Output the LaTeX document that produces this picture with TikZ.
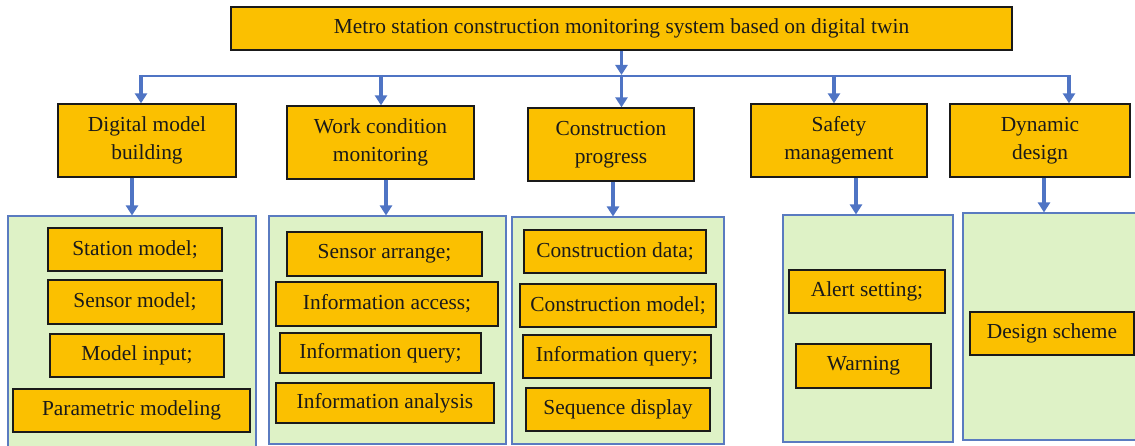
\documentclass[tikz,border=0pt]{standalone}
\usepackage{fontspec}
\setmainfont{Liberation Serif}
\usetikzlibrary{arrows.meta}
\definecolor{gold}{HTML}{FBC000}
\definecolor{leaf}{HTML}{DEF2C6}
\definecolor{link}{HTML}{4F74C4}
\definecolor{rim}{HTML}{5A7BC0}
\definecolor{ink}{HTML}{1A1A1A}
% \place{style}{name}{x1}{y1}{x2}{y2}{text}: a box given by its corners
\newcommand\place[7]{%
  \node[#1,minimum width={#5-#3},minimum height={#6-#4}] (#2)
    at ({(#3+#5)/2},{(#4+#6)/2}) {#7};}
\begin{document}
\begin{tikzpicture}[x=1pt,y=-1pt,
  box/.style={draw=ink,line width=1.3pt,fill=gold,inner sep=0pt,align=center,
    text=ink,font=\fontsize{21.4}{28.5}\selectfont},
  panel/.style={draw=rim,line width=1.1pt,fill=leaf,inner sep=0pt},
  arr/.style={draw=link,line width=3.2pt,-{Triangle[width=12pt,length=10pt]}},
  bus/.style={draw=link,line width=2pt}]
\useasboundingbox (0,0) rectangle (1135,446);
\clip (0,0) rectangle (1135,446);

% title
\place{box}{top}{231}{7}{1012}{50}{Metro station construction monitoring system based on digital twin}

% second level
\place{box}{dmb}{58}{104}{236}{177}{Digital model\\building}
\place{box}{wcm}{287}{106}{474}{179}{Work condition\\monitoring}
\place{box}{cpr}{528}{108}{694}{181}{Construction\\progress}
\place{box}{sfm}{751}{104}{927}{177}{Safety\\management}
\place{box}{dyd}{950}{104}{1130}{177}{Dynamic\\design}

% panels
\place{panel}{g1}{8}{216}{256}{452}{}
\place{panel}{g2}{269}{216}{506}{444}{}
\place{panel}{g3}{512}{217}{724}{444}{}
\place{panel}{g4}{783}{215}{953}{442}{}
\place{panel}{g5}{963}{213}{1142}{440}{}

% panel contents
\place{box}{a1}{48}{228}{222}{271}{Station model;}
\place{box}{a2}{48}{280}{222}{324}{Sensor model;}
\place{box}{a3}{50}{334}{224}{377}{Model input;}
\place{box}{a4}{13}{389}{250}{432}{Parametric modeling}

\place{box}{b1}{287}{232}{482}{276}{Sensor arrange;}
\place{box}{b2}{276}{282}{498}{326}{Information access;}
\place{box}{b3}{280}{333}{481}{373}{Information query;}
\place{box}{b4}{276}{383}{494}{423}{Information analysis}

\place{box}{c1}{524}{230}{706}{273}{Construction data;}
\place{box}{c2}{520}{284}{716}{327}{Construction model;}
\place{box}{c3}{523}{335}{711}{378}{Information query;}
\place{box}{c4}{526}{388}{710}{431}{Sequence display}

\place{box}{d1}{789}{270}{945}{313}{Alert setting;}
\place{box}{d2}{796}{344}{931}{388}{Warning}

\place{box}{e1}{970}{312}{1134}{355}{Design scheme}

% distribution bus
\coordinate (j1) at (141,76);
\coordinate (j2) at (381,76);
\coordinate (j3) at (621.5,76);
\coordinate (j4) at (834,76);
\coordinate (j5) at (1069,76);
\draw[bus] (j1) -- (j5);
\draw[arr] (top.south) -- ([yshift=1pt]j3);
\foreach \j/\n in {j1/dmb,j2/wcm,j3/cpr,j4/sfm,j5/dyd}
  \draw[arr] ([yshift=1pt]\j) -- (\j |- \n.north);

% module to panel
\foreach \n/\g/\s in {dmb/g1/-15,wcm/g2/5.5,cpr/g3/2,sfm/g4/17,dyd/g5/4}
  \draw[arr] ([xshift=\s pt]\n.south) -- ([xshift=\s pt]\n.south |- \g.north);
\end{tikzpicture}
\end{document}
